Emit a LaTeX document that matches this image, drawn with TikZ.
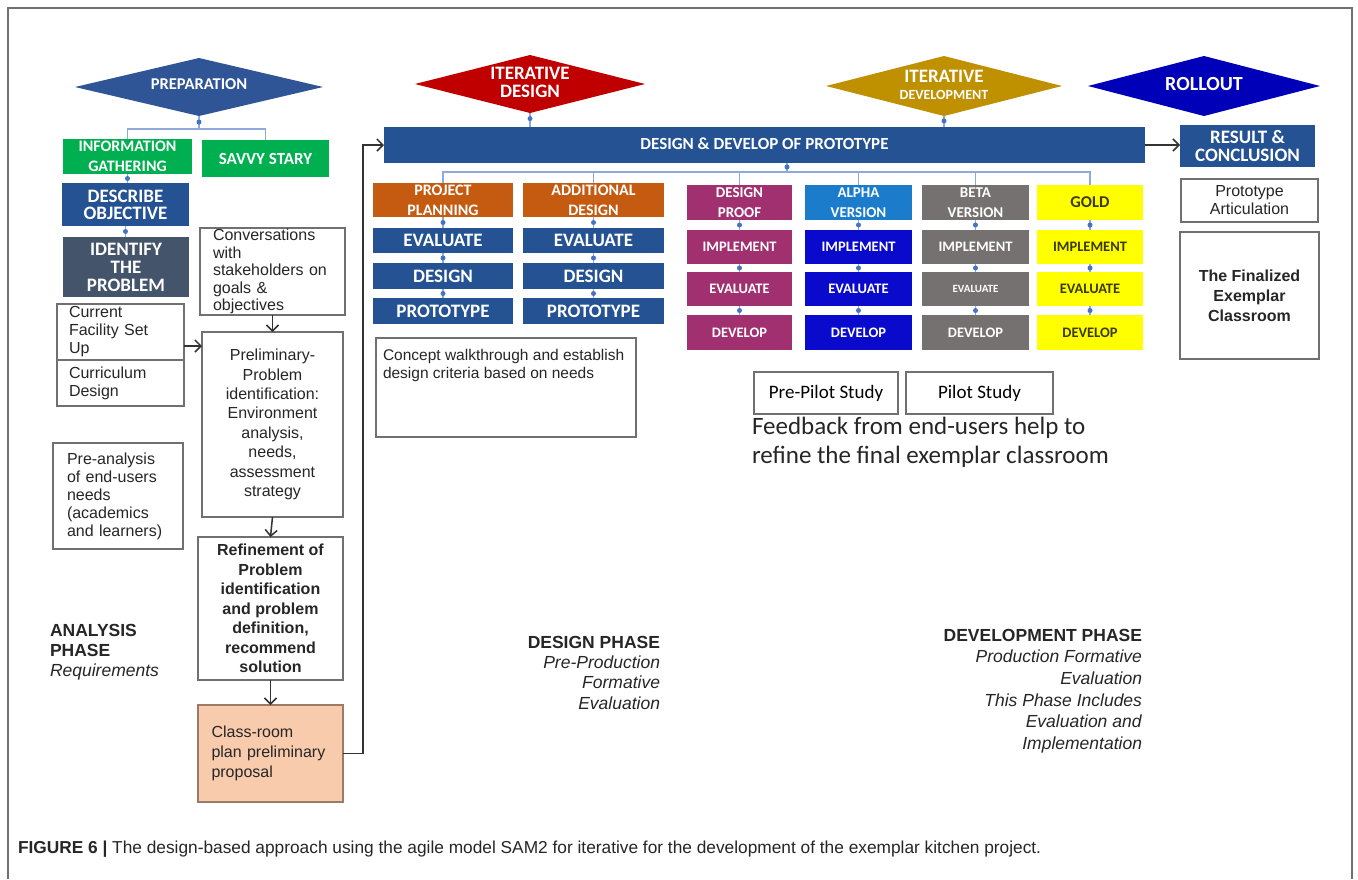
\documentclass[tikz,border=0pt]{standalone}
\usepackage{fontspec}
\setmainfont{Liberation Sans}
\newfontfamily\cali{Carlito}
\usetikzlibrary{shapes.geometric,arrows.meta}

\definecolor{prepblue}{HTML}{2F5597}
\definecolor{desred}{HTML}{C00000}
\definecolor{devgold}{HTML}{BF9000}
\definecolor{rollblue}{HTML}{0000B8}
\definecolor{sgreen}{HTML}{00B050}
\definecolor{navy}{HTML}{245293}
\definecolor{slate}{HTML}{44546A}
\definecolor{dorange}{HTML}{C55A11}
\definecolor{proofmag}{HTML}{A0306F}
\definecolor{alphahdr}{HTML}{1A7CCB}
\definecolor{alphabox}{HTML}{0A0ACC}
\definecolor{betagrey}{HTML}{767171}
\definecolor{goldyel}{HTML}{FFFF00}
\definecolor{goldtxt}{HTML}{3A3A10}
\definecolor{peach}{HTML}{F8CBAD}
\definecolor{peachline}{HTML}{9C7B66}
\definecolor{framegrey}{HTML}{707070}
\definecolor{txtdark}{HTML}{262626}
\definecolor{linkblue}{HTML}{8EAADB}
\definecolor{dotblue}{HTML}{4472C4}
\definecolor{arrowgrey}{HTML}{333333}

\newcommand\fs[2]{\fontsize{#1}{#2}\selectfont}
% box from corner (x1,y1) to corner (x2,y2), pixel-style coordinates
\newcommand\mkbox[7]{\node[#6, minimum width={(#4-#2)*1pt}, minimum height={(#5-#3)*1pt}] (#1) at ({(#2+#4)/2},{(#3+#5)/2}) {#7};}
\newcommand\vlink[2]{\draw[link] (#1.south) -- (#1.south |- #2.north) node[dot,midway]{};}

\tikzset{
  fillbox/.style={draw=none, inner sep=0pt, outer sep=0pt, text=white, align=center},
  wbox/.style={draw=framegrey, line width=1.3pt, fill=white, inner sep=0pt, outer sep=0pt, text=txtdark},
  phasedia/.style={diamond, draw=none, inner sep=0pt, outer sep=0pt, aspect=4, text=white, align=center},
  cb/.style 2 args={font={\cali\bfseries\fs{#1}{#2}}},
  cr/.style 2 args={font={\cali\fs{#1}{#2}}},
  ar/.style 2 args={font={\fs{#1}{#2}}},
  ab/.style 2 args={font={\bfseries\fs{#1}{#2}}},
  link/.style={draw=linkblue, line width=1.1pt},
  dot/.style={circle, fill=dotblue, inner sep=0pt, minimum size=5pt},
  flow/.style={draw=arrowgrey, line width=1.5pt, -{Straight Barb[length=6pt,width=12pt,line width=1.5pt]}},
  plain/.style={inner sep=0pt, outer sep=0pt, text=txtdark},
}

\begin{document}
\begin{tikzpicture}[x=1pt,y=-1pt]
\useasboundingbox (0,0) rectangle (1358,879);
\fill[white] (0,0) rectangle (1358,879);
% outer frame
\draw[framegrey, line width=1.5pt] (8,879) -- (8,8) -- (1352,8) -- (1352,879);

% phase diamonds
\node[phasedia, cb={16.5}{16}, fill=prepblue, minimum width=248pt, minimum height=58pt] (prep) at (199,87) {\raisebox{5pt}{PREPARATION}};
\node[phasedia, cb={19}{18}, fill=desred, minimum width=230pt, minimum height=58pt] (itdes) at (530,84) {\raisebox{3pt}{ITERATIVE}\\\raisebox{3pt}{DESIGN}};
\node[phasedia, cb={19}{17}, fill=devgold, minimum width=236pt, minimum height=60pt] (itdev) at (944,86) {\raisebox{2pt}{ITERATIVE}\\\fs{14}{14}\raisebox{2pt}{DEVELOPMENT}};
\node[phasedia, cb={20}{18}, fill=rollblue, minimum width=232pt, minimum height=60pt] (roll) at (1204,86) {\raisebox{4pt}{ROLLOUT}};

% analysis column
\mkbox{info}{63}{139}{192}{174}{fillbox,cb={16}{20},fill=sgreen}{INFORMATION\\GATHERING}
\mkbox{savvy}{202}{140}{329}{177}{fillbox,cb={17}{19},fill=sgreen}{SAVVY STARY}
\mkbox{descr}{62}{183}{189}{226}{fillbox,cb={19}{17},fill=navy}{DESCRIBE\\OBJECTIVE}
\mkbox{ident}{63}{237}{189}{297}{fillbox,cb={19}{18},fill=slate}{IDENTIFY\\THE\\PROBLEM}
\mkbox{conv}{200}{228}{345}{315}{wbox,ar={16}{17.4},align=left,text width=119pt}{Conversations\\with\\stakeholders on\\goals \&\\objectives}
\mkbox{facil}{57}{304}{184}{360}{wbox,ar={16}{18},align=left,text width=103pt}{Current\\Facility Set\\Up}
\mkbox{curric}{57}{360}{184}{406}{wbox,ar={16}{18},align=left,text width=103pt}{Curriculum\\Design}
\mkbox{prelim}{202}{332}{343}{517}{wbox,ar={16}{19.4},align=center}{Preliminary-\\Problem\\identification:\\Environment\\analysis,\\needs,\\assessment\\strategy}
\mkbox{refine}{198}{537}{343}{680}{wbox,ab={16}{19.5},align=center}{Refinement of\\Problem\\identification\\and problem\\definition,\\recommend\\solution}
\mkbox{classrm}{198}{705}{343}{802}{wbox,ar={16}{20},draw=peachline,fill=peach,align=left,text width=118pt}{Class-room\\plan preliminary\\proposal}
\mkbox{preanal}{53}{443}{183}{549}{wbox,ar={16}{18},align=left,text width=102pt}{Pre-analysis\\of end-users\\needs\\(academics\\and learners)}

% prototype bar and rollout column
\mkbox{bar}{384}{127}{1145}{163}{fillbox,cb={17}{16},fill=navy}{\raisebox{2pt}{DESIGN \& DEVELOP OF PROTOTYPE}}
\mkbox{result}{1180}{125}{1315}{167}{fillbox,cb={19}{18.5},fill=navy}{RESULT \&\\CONCLUSION}
\mkbox{protoart}{1181}{179}{1318}{222}{wbox,ar={16}{18},align=center}{Prototype\\Articulation}
\mkbox{final}{1180}{232}{1319}{359}{wbox,ab={16}{20},align=center}{The Finalized\\Exemplar\\Classroom}

% design columns
\mkbox{plan}{373}{183}{513}{217}{fillbox,cb={16}{20},fill=dorange}{PROJECT\\PLANNING}
\mkbox{addl}{523}{183}{664}{217}{fillbox,cb={16}{20},fill=dorange}{ADDITIONAL\\DESIGN}
\mkbox{evA}{373}{228}{513}{253}{fillbox,cb={19}{19},fill=navy}{EVALUATE}
\mkbox{evB}{523}{228}{664}{253}{fillbox,cb={19}{19},fill=navy}{EVALUATE}
\mkbox{deA}{373}{263}{513}{289}{fillbox,cb={19}{19},fill=navy}{DESIGN}
\mkbox{deB}{523}{263}{664}{289}{fillbox,cb={19}{19},fill=navy}{DESIGN}
\mkbox{prA}{373}{298}{513}{324}{fillbox,cb={19}{19},fill=navy}{PROTOTYPE}
\mkbox{prB}{523}{298}{664}{324}{fillbox,cb={19}{19},fill=navy}{PROTOTYPE}
\mkbox{concept}{376}{338}{636}{437}{wbox,ar={15.5}{18}}{\parbox[c][95pt][t]{246pt}{\vspace*{9pt}\raggedright Concept walkthrough and establish\\design criteria based on needs}}

% development columns
\mkbox{proofH}{687}{185}{792}{220}{fillbox,cb={15}{20},fill=proofmag}{DESIGN\\PROOF}
\mkbox{proofI}{687}{230}{792}{264}{fillbox,cb={14.5}{14},fill=proofmag}{IMPLEMENT}
\mkbox{proofE}{687}{272}{792}{306}{fillbox,cb={14.5}{14},fill=proofmag}{EVALUATE}
\mkbox{proofD}{687}{315}{792}{350}{fillbox,cb={14.5}{14},fill=proofmag}{DEVELOP}
\mkbox{alphaH}{805}{185}{912}{220}{fillbox,cb={15}{20},fill=alphahdr}{ALPHA\\VERSION}
\mkbox{alphaI}{805}{230}{912}{264}{fillbox,cb={14.5}{14},fill=alphabox}{IMPLEMENT}
\mkbox{alphaE}{805}{272}{912}{306}{fillbox,cb={14.5}{14},fill=alphabox}{EVALUATE}
\mkbox{alphaD}{805}{315}{912}{350}{fillbox,cb={14.5}{14},fill=alphabox}{DEVELOP}
\mkbox{betaH}{922}{185}{1029}{220}{fillbox,cb={15}{20},fill=betagrey}{BETA\\VERSION}
\mkbox{betaI}{922}{230}{1029}{264}{fillbox,cb={14.5}{14},fill=betagrey}{IMPLEMENT}
\mkbox{betaE}{922}{272}{1029}{306}{fillbox,cb={11}{12},fill=betagrey}{EVALUATE}
\mkbox{betaD}{922}{315}{1029}{350}{fillbox,cb={14.5}{14},fill=betagrey}{DEVELOP}
\mkbox{goldH}{1037}{185}{1143}{220}{fillbox,cb={16.5}{14},fill=goldyel,text=goldtxt}{GOLD}
\mkbox{goldI}{1037}{230}{1143}{264}{fillbox,cb={14.5}{14},fill=goldyel,text=goldtxt}{IMPLEMENT}
\mkbox{goldE}{1037}{272}{1143}{306}{fillbox,cb={14.5}{14},fill=goldyel,text=goldtxt}{EVALUATE}
\mkbox{goldD}{1037}{315}{1143}{350}{fillbox,cb={14.5}{14},fill=goldyel,text=goldtxt}{DEVELOP}

\mkbox{prepilot}{754}{372}{898}{414}{wbox,cr={19}{20},text=black}{Pre-Pilot Study}
\mkbox{pilot}{906}{372}{1053}{414}{wbox,cr={19}{20},text=black}{Pilot Study}
\node[plain, cr={25}{29}, anchor=north west, align=left] (feedback) at (752,417) {Feedback from end-users help to\\refine the final exemplar classroom};

% phase captions
\node[plain, ar={17.5}{20}, anchor=north west, align=left] (aphase) at (50,624) {\textbf{ANALYSIS}\\\textbf{PHASE}\\\textit{Requirements}};
\node[plain, ar={17.5}{20.3}, anchor=north east, align=right] (dphase) at (660,636) {\textbf{DESIGN PHASE}\\\textit{Pre-Production}\\\textit{Formative}\\\textit{Evaluation}};
\node[plain, ar={17.5}{21.6}, anchor=north east, align=right] (vphase) at (1142,629) {\textbf{DEVELOPMENT PHASE}\\\textit{Production Formative}\\\textit{Evaluation}\\\textit{This Phase Includes}\\\textit{Evaluation and}\\\textit{Implementation}};

% figure caption
\node[plain, ar={17.3}{20}, anchor=west] (caption) at (18,849) {\textbf{FIGURE 6 |} The design-based approach using the agile model SAM2 for iterative for the development of the exemplar kitchen project.};

% preparation tree
\coordinate (pj) at (199,129);
\draw[link] (prep.south) -- (pj);
\node[dot] at (199,122) {};
\draw[link] (info.north) |- (pj) -| (savvy.north);
\vlink{info}{descr}
\vlink{descr}{ident}

% analysis flow
\draw[flow] (conv.south) -- (prelim.north);
\coordinate (fa) at ([yshift=-14pt]facil.east);
\draw[flow] (fa) -- (fa -| prelim.west);
\draw[flow] (prelim.south) -- (refine.north);
\draw[flow] (refine.south) -- (classrm.north);
\draw[flow] (classrm.east) -- ++(20,0) |- (bar.west);
\draw[flow] (bar.east) -- (bar.east -| result.west);

% diamonds into the prototype bar
\draw[link] (itdes.south) -- (itdes.south |- bar.north) node[dot,pos=0.4]{};
\draw[link] (itdev.south) -- (itdev.south |- bar.north) node[dot,pos=0.45]{};

% prototype bar tree
\coordinate (bj) at (787,172);
\draw[link] (bj |- bar.south) -- (bj);
\node[dot] at (787,167) {};
\draw[link] (plan.north) |- (bj) -| (goldH.north);
\foreach \n in {addl,proofH,alphaH,betaH}{\draw[link] (\n.north) -- (\n.north |- bj);}

% column links
\vlink{plan}{evA}
\vlink{evA}{deA}
\vlink{deA}{prA}
\vlink{addl}{evB}
\vlink{evB}{deB}
\vlink{deB}{prB}
\foreach \c in {proof,alpha,beta,gold}{
  \vlink{\c H}{\c I}
  \vlink{\c I}{\c E}
  \vlink{\c E}{\c D}
}
\end{tikzpicture}
\end{document}
